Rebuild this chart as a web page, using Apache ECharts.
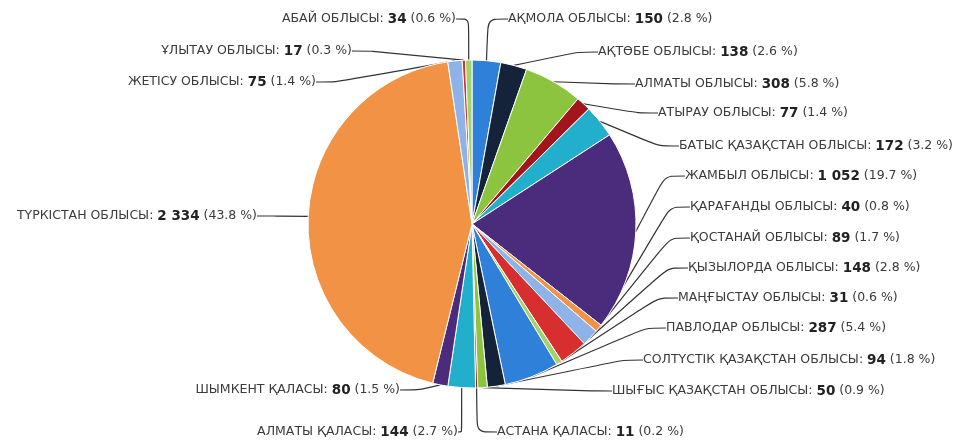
<!DOCTYPE html>
<html>
<head>
<meta charset="utf-8">
<script src="https://cdn.jsdelivr.net/npm/echarts@6/dist/echarts.min.js"></script>
<style>
  html, body { margin: 0; padding: 0; background: #fff; }
  #chart { width: 955px; height: 441px; }
</style>
</head>
<body>
<div id="chart"></div>
<script>
const regions = [
  'АҚМОЛА ОБЛЫСЫ', 'АҚТӨБЕ ОБЛЫСЫ', 'АЛМАТЫ ОБЛЫСЫ', 'АТЫРАУ ОБЛЫСЫ',
  'БАТЫС ҚАЗАҚСТАН ОБЛЫСЫ', 'ЖАМБЫЛ ОБЛЫСЫ', 'ҚАРАҒАНДЫ ОБЛЫСЫ',
  'ҚОСТАНАЙ ОБЛЫСЫ', 'ҚЫЗЫЛОРДА ОБЛЫСЫ', 'МАҢҒЫСТАУ ОБЛЫСЫ',
  'ПАВЛОДАР ОБЛЫСЫ', 'СОЛТҮСТІК ҚАЗАҚСТАН ОБЛЫСЫ', 'ШЫҒЫС ҚАЗАҚСТАН ОБЛЫСЫ',
  'АСТАНА ҚАЛАСЫ', 'АЛМАТЫ ҚАЛАСЫ', 'ШЫМКЕНТ ҚАЛАСЫ', 'ТҮРКІСТАН ОБЛЫСЫ',
  'ЖЕТІСУ ОБЛЫСЫ', 'ҰЛЫТАУ ОБЛЫСЫ', 'АБАЙ ОБЛЫСЫ'
]
const counts = [150, 138, 308, 77, 172, 1052, 40, 89, 148, 31, 287, 94, 50, 11, 144, 80, 2334, 75, 17, 34]

const colors = [
  '#2f80d8', '#14233a', '#8cc43f', '#a3151c', '#22afcc',
  '#4b2b7c', '#f29244', '#8db3e8', '#d72f2f', '#9fd36b'
]

// where each label's text starts (left) or ends (right), and its middle y
const labelPos = [
  [508, 19, 'left'], [598, 52, 'left'], [635, 84, 'left'], [658, 113, 'left'],
  [953, 146, 'right'], [685, 176, 'left'], [690, 207, 'left'], [690, 238, 'left'],
  [688, 268, 'left'], [678, 298, 'left'], [666, 328, 'left'], [643, 360, 'left'],
  [612, 391, 'left'], [497, 432, 'left'], [458, 432, 'right'], [400, 390, 'right'],
  [257, 216, 'right'], [316, 82, 'right'], [352, 51, 'right'], [456, 19, 'right']
]
const gap = 7

const total = counts.reduce((a, b) => a + b, 0)
const fmt = v => String(v).replace(/\B(?=(\d{3})+(?!\d))/g, ' ')

const chart = echarts.init(document.getElementById('chart'))
chart.setOption({
  animation: false,
  color: colors,
  series: [{
    type: 'pie',
    center: [472, 224],
    radius: 164,
    startAngle: 90,
    clockwise: true,
    avoidLabelOverlap: false,
    itemStyle: { borderColor: '#fff', borderWidth: 1 },
    data: regions.map((n, i) => ({ name: n, value: counts[i] })),
    label: {
      fontFamily: 'DejaVu Sans',
      fontSize: 12.5,
      color: '#3a3a3a',
      padding: [0, gap, 0, gap],
      formatter: p => '{n|' + p.name + ': }{b|' + fmt(p.value) + '}{n| (' +
        (p.value / total * 100).toFixed(1) + ' %)}',
      rich: {
        n: { fontFamily: 'DejaVu Sans', fontSize: 12.5, color: '#3a3a3a' },
        b: { fontFamily: 'DejaVu Sans', fontSize: 13.5, fontWeight: 'bold', color: '#222' }
      }
    },
    labelLine: {
      length: 10,
      length2: 20,
      smooth: 0.25,
      lineStyle: { color: '#333', width: 1.2 }
    },
    labelLayout: p => {
      const pos = labelPos[p.dataIndex]
      const x = pos[2] === 'left' ? pos[0] - gap : pos[0] + gap
      return { x: x, y: pos[1], align: pos[2], verticalAlign: 'middle' }
    }
  }]
})
</script>
</body>
</html>
